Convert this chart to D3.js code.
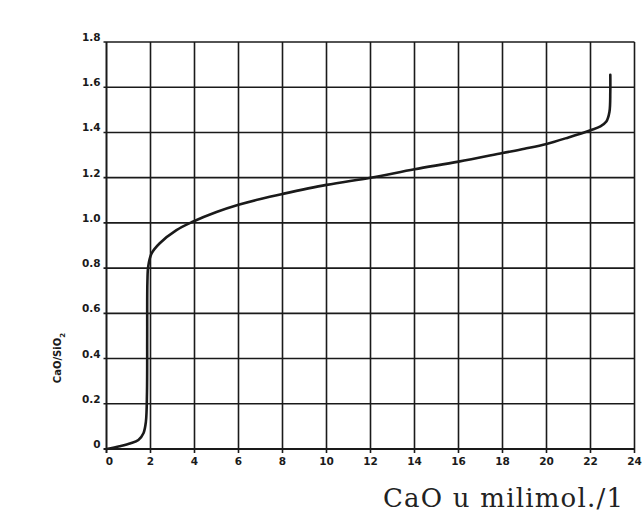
<!DOCTYPE html>
<html>
<head>
<meta charset="utf-8">
<script src="https://cdn.jsdelivr.net/npm/d3@7"></script>
<style>
  html, body { margin: 0; padding: 0; background: #fff; }
  svg { display: block; }
</style>
</head>
<body>
<svg id="chart" width="643" height="524"></svg>
<script>
// Data
const xTicks = [0, 2, 4, 6, 8, 10, 12, 14, 16, 18, 20, 22, 24];
const yTicks = [0, 0.2, 0.4, 0.6, 0.8, 1.0, 1.2, 1.4, 1.6, 1.8];
const yTickLabels = ["0", "0.2", "0.4", "0.6", "0.8", "1.0", "1.2", "1.4", "1.6", "1.8"];
const caoValues = [0, 0.6, 1.1, 1.45, 1.68, 1.79, 1.84, 1.85, 1.86, 1.9, 2.05, 2.42, 3.18, 3.92, 5, 6, 7, 8, 10, 12, 14, 16, 18, 19, 20, 21, 22, 22.45, 22.72, 22.86, 22.9, 22.9];
const ratioValues = [0, 0.012, 0.025, 0.04, 0.07, 0.12, 0.25, 0.5, 0.74, 0.81, 0.865, 0.91, 0.968, 1.005, 1.048, 1.08, 1.106, 1.128, 1.168, 1.20, 1.237, 1.271, 1.309, 1.328, 1.349, 1.378, 1.41, 1.427, 1.448, 1.49, 1.58, 1.655];
const xTitle = "CaO u milimol./1";

const svg = d3.select("#chart");
const x = d3.scaleLinear().domain([0, 24]).range([106.5, 634.5]);
const y = d3.scaleLinear().domain([0, 1.8]).range([449, 42]);
const ink = "#1a1a1a";

// vertical grid lines
svg.append("g").selectAll("line").data(xTicks).join("line")
  .attr("x1", d => x(d)).attr("x2", d => x(d))
  .attr("y1", y(1.8)).attr("y2", y(0) + 4)
  .attr("stroke", ink).attr("stroke-width", d => (d === 0 ? 2 : 1.6));

// horizontal grid lines
svg.append("g").selectAll("line").data(yTicks).join("line")
  .attr("x1", x(0) - 3).attr("x2", x(24))
  .attr("y1", d => y(d)).attr("y2", d => y(d))
  .attr("stroke", ink).attr("stroke-width", d => (d === 0 ? 2 : 1.6));

// x tick labels
svg.append("g").selectAll("text").data(xTicks).join("text")
  .attr("x", d => x(d) + (d === 0 ? 3 : 0)).attr("y", y(0) + 16)
  .attr("text-anchor", "middle")
  .attr("font-family", "DejaVu Sans, sans-serif").attr("font-weight", "bold")
  .attr("font-size", 10.5).attr("fill", ink)
  .text(d => d);

// y tick labels
svg.append("g").selectAll("text").data(yTicks).join("text")
  .attr("x", x(0) - 6).attr("y", d => y(d) - 1)
  .attr("text-anchor", "end")
  .attr("font-family", "DejaVu Sans, sans-serif").attr("font-weight", "bold")
  .attr("font-size", 10.5).attr("fill", ink)
  .text((d, i) => yTickLabels[i]);

// y title
svg.append("text")
  .attr("transform", "translate(61,358) rotate(-90)")
  .attr("text-anchor", "middle")
  .attr("font-family", "DejaVu Sans, sans-serif").attr("font-weight", "bold")
  .attr("font-size", 10).attr("fill", ink)
  .text("CaO/SiO")
  .append("tspan").attr("baseline-shift", "sub").attr("font-size", 7).text("2");

// x title
svg.append("text")
  .attr("x", 383).attr("y", 507)
  .attr("font-family", "DejaVu Serif, serif")
  .attr("font-size", 26).attr("fill", "#222")
  .attr("textLength", 240).attr("lengthAdjust", "spacing")
  .text(xTitle);

// curve
const pts = caoValues.map((v, i) => [v, ratioValues[i]]);
const line = d3.line().x(d => x(d[0])).y(d => y(d[1])).curve(d3.curveCatmullRom.alpha(0.5));
svg.append("path").datum(pts)
  .attr("d", line)
  .attr("fill", "none").attr("stroke", ink).attr("stroke-width", 2.6)
  .attr("stroke-linecap", "round").attr("stroke-linejoin", "round");
</script>
</body>
</html>
